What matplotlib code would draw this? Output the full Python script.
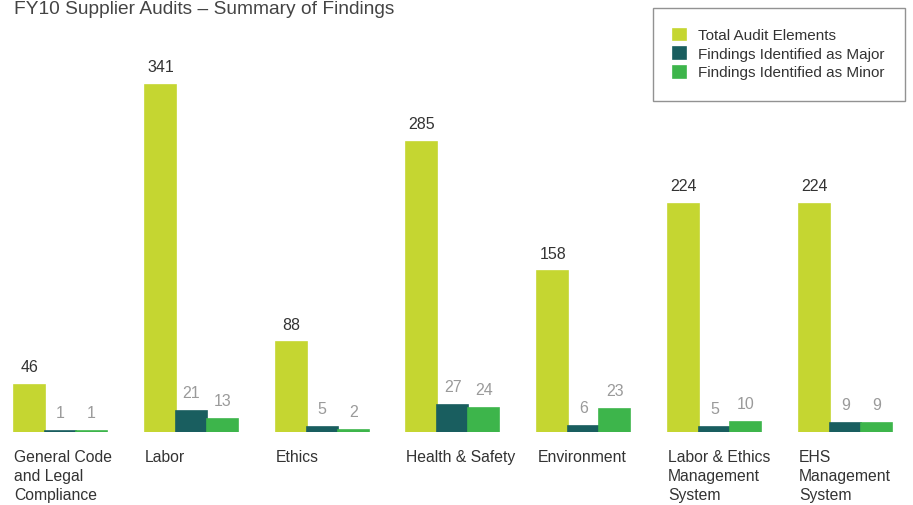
import numpy as np
import matplotlib
matplotlib.use('Agg')
import matplotlib.pyplot as plt

plt.rcParams['font.family'] = ['Liberation Sans', 'DejaVu Sans']

categories = ['General Code\nand Legal\nCompliance', 'Labor', 'Ethics', 'Health & Safety',
              'Environment', 'Labor & Ethics\nManagement\nSystem', 'EHS\nManagement\nSystem']
total = [46, 341, 88, 285, 158, 224, 224]
major = [1, 21, 5, 27, 6, 5, 9]
minor = [1, 13, 2, 24, 23, 10, 9]

series = ['Total Audit Elements', 'Findings Identified as Major', 'Findings Identified as Minor']
colors = ['#c5d631', '#195e5f', '#3db54b']

fig = plt.figure(figsize=(9.13, 5.05), dpi=100)
ax = fig.add_axes([0, 73/505, 1, 407/505])
ax.set_xlim(-0.4624, 6.516)
ax.set_ylim(0, 400)
ax.axis('off')

x = np.arange(len(categories))
bw = 31/130.83

handles = []
for k, (vals, col, name) in enumerate(zip([total, major, minor], colors, series)):
    pos = x + (k-1)*bw
    b = ax.bar(pos, vals, width=bw, color=col, edgecolor=col, linewidth=1.2, label=name)
    handles.append(b)
    tc = '#333333' if k == 0 else '#9a9a9a'
    for p, v in zip(pos, vals):
        ax.annotate(str(v), (p, v), xytext=(0, 7), textcoords='offset points',
                    ha='center', va='bottom', fontsize=11.5, color=tc)

for i, c in enumerate(categories):
    ax.text(x[i] - 1.5*bw, -18, c, ha='left', va='top', fontsize=11.3,
            color='#333333', linespacing=1.3, clip_on=False)

fig.text(14/913, 1-1/505, 'FY10 Supplier Audits \u2013 Summary of Findings',
         ha='left', va='top', fontsize=13.8, color='#444444')

leg = fig.legend(handles=handles, labels=series, loc='upper right',
                 bbox_to_anchor=(905/913, 1-8/505), fontsize=11,
                 frameon=True, fancybox=False, edgecolor='#777777',
                 handlelength=0.8, handleheight=0.8, handletextpad=0.8,
                 borderpad=1.35, labelspacing=0.3, borderaxespad=0)
leg.get_frame().set_linewidth(1.0)
for t in leg.get_texts():
    t.set_color('#333333')

plt.savefig('out.png', dpi=100)
